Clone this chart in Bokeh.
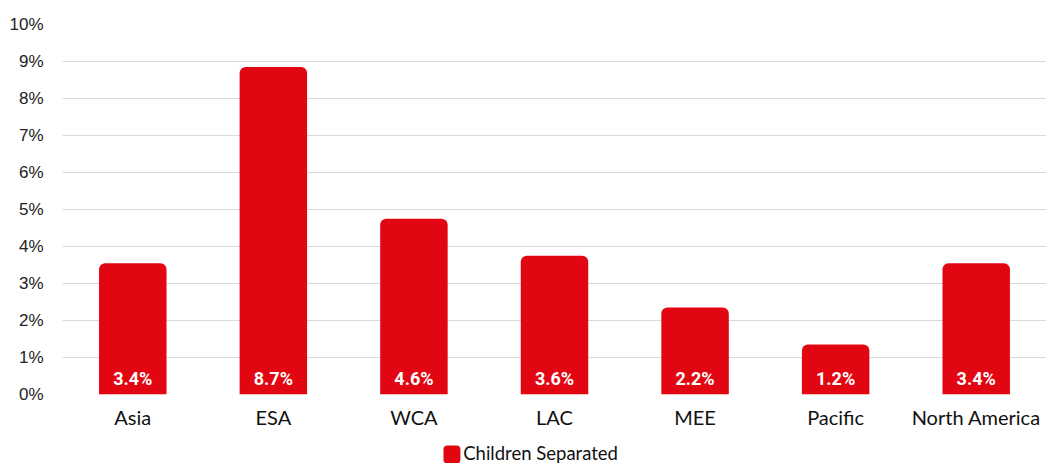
import numpy as np
from bokeh.plotting import figure
from bokeh.layouts import column
from bokeh.models import ColumnDataSource, Range1d, FixedTicker, LabelSet
from bokeh.core.properties import value
from bokeh.embed import file_html
from bokeh.resources import INLINE

categories = ["Asia", "ESA", "WCA", "LAC", "MEE", "Pacific", "North America"]
children_separated = [3.4, 8.7, 4.6, 3.6, 2.2, 1.2, 3.4]
y_ticks = [0, 1, 2, 3, 4, 5, 6, 7, 8, 9, 10]
y_tick_labels = ["0%", "1%", "2%", "3%", "4%", "5%", "6%", "7%", "8%", "9%", "10%"]
series_name = "Children Separated"

RED = "#E20613"
bar_pad = 0.15  # visual extra height of rounded bar tops in the reference

src = ColumnDataSource(dict(
    cat=categories,
    val=children_separated,
    top=[v + bar_pad for v in children_separated],
    lab=[f"{v:.1f}%" for v in children_separated],
))

p = figure(x_range=categories, y_range=Range1d(0, 10),
           frame_width=984, frame_height=370,
           output_backend="svg", toolbar_location=None,
           min_border_left=62, min_border_right=0, min_border_top=24, min_border_bottom=40)
p.outline_line_color = None
p.background_fill_color = "white"

r = p.vbar(x="cat", top="top", bottom=0, width=0.48, source=src, fill_color=RED,
           line_color=None, border_radius=(6, 6, 0, 0))

labels = LabelSet(x="cat", y=0, text="lab", source=src, text_color="white",
                  text_font=value("Roboto"), text_font_style="bold", text_font_size="18px",
                  text_align="center", text_baseline="alphabetic", y_offset=10)
p.add_layout(labels)

p.xgrid.grid_line_color = None
p.ygrid.grid_line_color = "#d9d9d9"
p.ygrid.grid_line_width = 1
p.ygrid.ticker = FixedTicker(ticks=y_ticks)

p.yaxis.ticker = FixedTicker(ticks=y_ticks)
p.yaxis.major_label_overrides = {t: l for t, l in zip(y_ticks, y_tick_labels)}
p.yaxis.axis_line_color = None
p.yaxis.major_tick_line_color = None
p.yaxis.minor_tick_line_color = None
p.yaxis.major_tick_out = 0
p.yaxis.major_tick_in = 0
p.yaxis.minor_tick_out = 0
p.yaxis.major_label_standoff = 19
p.yaxis.major_label_text_font = "Liberation Sans"
p.yaxis.major_label_text_font_size = "17px"
p.yaxis.major_label_text_color = "#222222"

p.xaxis.axis_line_color = None
p.xaxis.major_tick_line_color = None
p.xaxis.minor_tick_line_color = None
p.xaxis.major_tick_out = 0
p.xaxis.major_tick_in = 0
p.xaxis.minor_tick_out = 0
p.xaxis.major_label_standoff = 10
p.xaxis.major_label_text_font = "Lato"
p.xaxis.major_label_text_font_size = "20px"
p.xaxis.major_label_text_color = "#111111"

# legend strip below the chart, in pixel coordinates
LEG_W, LEG_H = 1046, 29
lg = figure(width=LEG_W, height=LEG_H, x_range=Range1d(0, LEG_W), y_range=Range1d(0, LEG_H),
            x_axis_type=None, y_axis_type=None, output_backend="svg", toolbar_location=None,
            min_border_left=0, min_border_right=0, min_border_top=0, min_border_bottom=0)
lg.outline_line_color = None
lg.grid.visible = False
lg.vbar(x=[414], top=[18], bottom=[0], width=18, fill_color=RED, line_color=None,
        border_radius=4)
lg.text(x=[426], y=[11], text=[series_name], text_font=value("Lato"),
        text_font_size="18.5px", text_color="#111111", text_baseline="middle",
        text_align="left")

layout = column(p, lg, spacing=0)
open("out.html", "w").write(file_html(layout, INLINE))
